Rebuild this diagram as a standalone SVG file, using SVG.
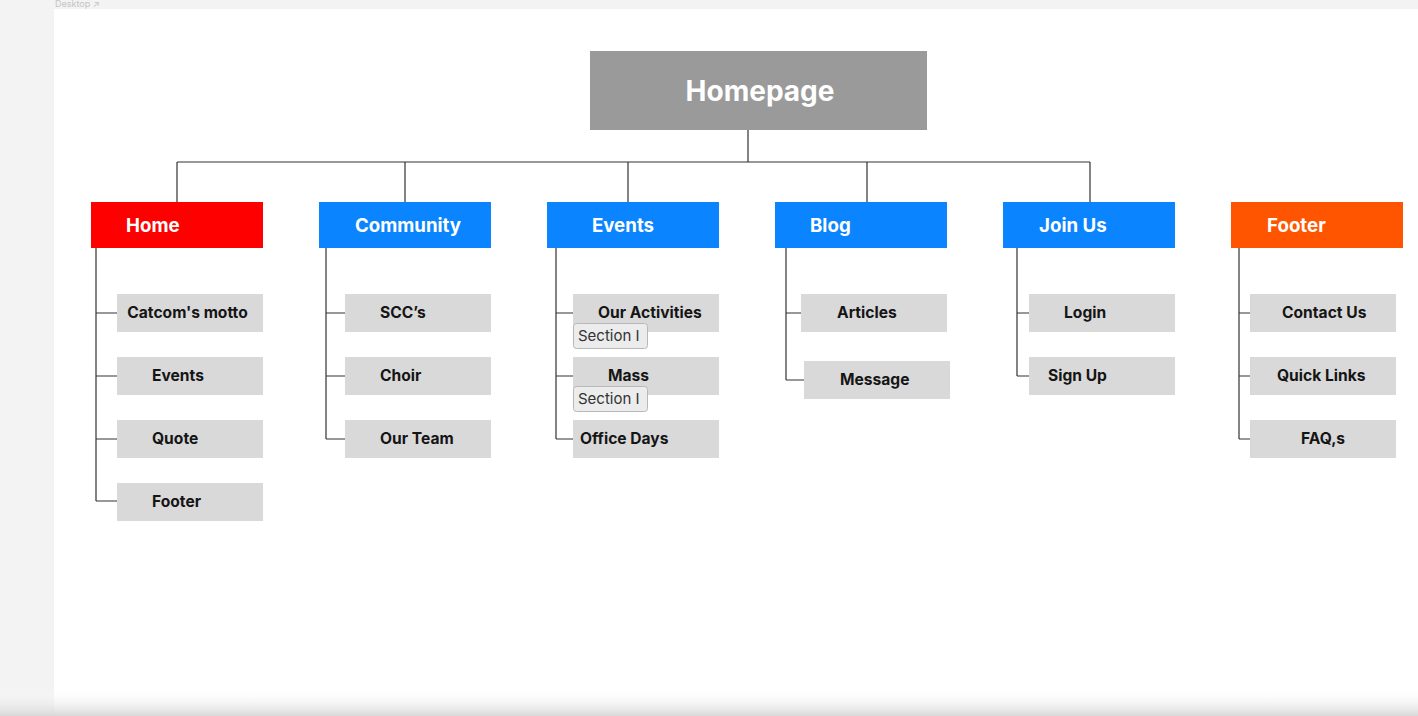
<svg xmlns="http://www.w3.org/2000/svg" width="1418" height="716" viewBox="0 0 1418 716">
<defs>
<linearGradient id="bot" x1="0" y1="0" x2="0" y2="1">
<stop offset="0" stop-color="#ffffff" stop-opacity="0"/>
<stop offset="1" stop-color="#d8d8d8"/>
</linearGradient>
<style>
.top{font-family:Inter,"Liberation Sans",sans-serif;font-weight:700;font-size:18.7px;fill:#ffffff}
.sub{fill:#d9d9d9}
.st{font-family:Inter,"Liberation Sans",sans-serif;font-weight:700;font-size:15.6px;fill:#151515}
.ln{stroke:#333;stroke-width:1.2;fill:none}
.tag{fill:#ececec;stroke:#b8b8b8;stroke-width:1}
.tt{font-family:Inter,"Liberation Sans",sans-serif;font-size:15px;fill:#333}
.blue{fill:#0a84ff}
</style>
</defs>
<rect x="0" y="0" width="1418" height="716" fill="#f3f3f3"/>
<rect x="54" y="9" width="1364" height="707" fill="#ffffff"/>
<text x="55" y="7" font-family="Inter,'Liberation Sans',sans-serif" font-size="9" fill="#c4c4c4">Desktop  ↗</text>
<rect x="0" y="688" width="1418" height="28" fill="url(#bot)"/>

<g id="connectors" class="ln">
<path d="M748 130V162M177 162H1090M177 162V202M405 162V202M628 162V202M867 162V202M1090 162V202"/>
<path d="M96 248V501M96 313H117M96 376H117M96 439H117M96 501H117"/>
<path d="M326 248V439M326 313H345M326 376H345M326 439H345"/>
<path d="M556 248V439M556 313H573M556 376H573M556 439H573"/>
<path d="M786 248V380M786 313H801M786 380H804"/>
<path d="M1017 248V376M1017 313H1029M1017 376H1029"/>
<path d="M1239 248V439M1239 313H1250M1239 376H1250M1239 439H1250"/>
</g>

<g id="homepage">
<rect x="590" y="51" width="337" height="79" fill="#9a9a9a"/>
<text x="760" y="101" text-anchor="middle" font-family="Inter,'Liberation Sans',sans-serif" font-weight="700" font-size="28" fill="#ffffff">Homepage</text>
</g>

<g id="home">
<rect x="91" y="202" width="172" height="46" fill="#ff0000"/>
<text class="top" x="126" y="232">Home</text>
</g>
<g id="community">
<rect class="blue" x="319" y="202" width="172" height="46"/>
<text class="top" x="408" y="232" text-anchor="middle">Community</text>
</g>
<g id="events">
<rect class="blue" x="547" y="202" width="172" height="46"/>
<text class="top" x="623" y="232" text-anchor="middle">Events</text>
</g>
<g id="blog">
<rect class="blue" x="775" y="202" width="172" height="46"/>
<text class="top" x="810" y="232">Blog</text>
</g>
<g id="joinus">
<rect class="blue" x="1003" y="202" width="172" height="46"/>
<text class="top" x="1039" y="232">Join Us</text>
</g>
<g id="footer">
<rect x="1231" y="202" width="172" height="46" fill="#ff5500"/>
<text class="top" x="1267" y="232">Footer</text>
</g>

<g id="home-motto"><rect class="sub" x="117" y="294" width="146" height="38"/><text class="st" x="187.5" y="318" text-anchor="middle">Catcom's motto</text></g>
<g id="home-events"><rect class="sub" x="117" y="357" width="146" height="38"/><text class="st" x="152" y="381">Events</text></g>
<g id="home-quote"><rect class="sub" x="117" y="420" width="146" height="38"/><text class="st" x="152" y="444">Quote</text></g>
<g id="home-footer"><rect class="sub" x="117" y="483" width="146" height="38"/><text class="st" x="152" y="507">Footer</text></g>

<g id="comm-scc"><rect class="sub" x="345" y="294" width="146" height="38"/><text class="st" x="380" y="318">SCC’s</text></g>
<g id="comm-choir"><rect class="sub" x="345" y="357" width="146" height="38"/><text class="st" x="380" y="381">Choir</text></g>
<g id="comm-team"><rect class="sub" x="345" y="420" width="146" height="38"/><text class="st" x="380" y="444">Our Team</text></g>

<g id="ev-activities"><rect class="sub" x="573" y="294" width="146" height="38"/><text class="st" x="598" y="318">Our Activities</text>
<rect class="tag" x="573.5" y="323.5" width="74" height="25" rx="3"/><text class="tt" x="578" y="341">Section I</text></g>
<g id="ev-mass"><rect class="sub" x="573" y="357" width="146" height="38"/><text class="st" x="608" y="381">Mass</text>
<rect class="tag" x="573.5" y="386.5" width="74" height="25" rx="3"/><text class="tt" x="578" y="404">Section I</text></g>
<g id="ev-office"><rect class="sub" x="573" y="420" width="146" height="38"/><text class="st" x="580" y="444">Office Days</text></g>

<g id="blog-articles"><rect class="sub" x="801" y="294" width="146" height="38"/><text class="st" x="837" y="318">Articles</text></g>
<g id="blog-message"><rect class="sub" x="804" y="361" width="146" height="38"/><text class="st" x="840" y="385">Message</text></g>

<g id="join-login"><rect class="sub" x="1029" y="294" width="146" height="38"/><text class="st" x="1064" y="318">Login</text></g>
<g id="join-signup"><rect class="sub" x="1029" y="357" width="146" height="38"/><text class="st" x="1048" y="381">Sign Up</text></g>

<g id="foot-contact"><rect class="sub" x="1250" y="294" width="146" height="38"/><text class="st" x="1282" y="318">Contact Us</text></g>
<g id="foot-links"><rect class="sub" x="1250" y="357" width="146" height="38"/><text class="st" x="1277" y="381">Quick Links</text></g>
<g id="foot-faq"><rect class="sub" x="1250" y="420" width="146" height="38"/><text class="st" x="1301" y="444">FAQ,s</text></g>
</svg>
